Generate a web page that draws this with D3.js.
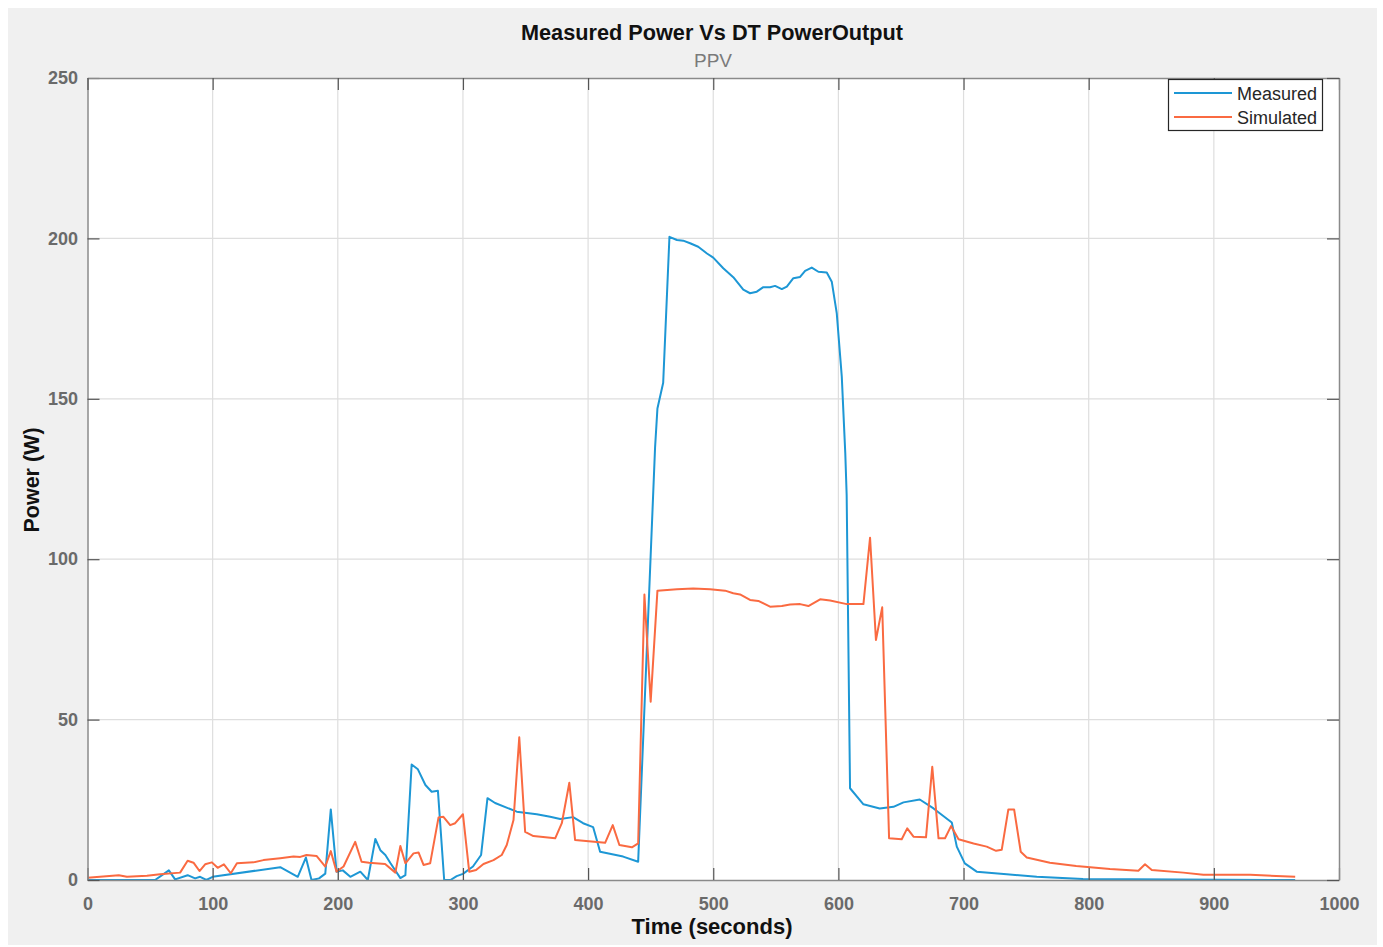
<!DOCTYPE html>
<html>
<head>
<meta charset="utf-8">
<script src="https://cdn.jsdelivr.net/npm/d3@7"></script>
<style>
  html, body { margin: 0; padding: 0; background: #ffffff; }
  svg { display: block; }
  text { font-family: "Liberation Sans", Arial, Helvetica, sans-serif; }
</style>
</head>
<body>
<svg id="chart" width="1383" height="947"></svg>
<script>
// ---------------- DATA ----------------
const seriesNames = ["Measured", "Simulated"];
const seriesColors = ["#1d97d5", "#fa6a41"];

const xTicks = [0, 100, 200, 300, 400, 500, 600, 700, 800, 900, 1000];
const yTicks = [0, 50, 100, 150, 200, 250];

const measuredTime = [0,54,65,70,80,86,90,95,100,154,168,174.5,179,185,190,194.4,199,204,210,218,224,230,234,238,242,250,254,259,264,270,275,280,285,290,295,300,308,314.5,319.6,325.7,343,359,369.7,377.7,388,396,404,409.6,428,440,453.5,455.4,460,465,471,476,481.5,488,495,500,508,516,524,529.4,534.8,540,545.4,549.4,554.8,558.8,564,569.4,573.4,578.7,584,590.7,594.7,598.7,602.7,605.5,606.6,609.3,620,633,644,652,665,676,690.6,694.6,701,710.5,734.5,758.5,795.5,965];
const measuredPower = [0,0,3,0.2,1.5,0.5,1,0,1,4,1,7,0,0.5,2,22,2.6,3,1,2.6,0,12.8,9.3,7.8,5.3,0.6,1.5,36,34.5,29.6,27.5,27.8,0,0,1.2,1.9,4.2,7.8,25.5,24,21.3,20.5,19.7,19,19.6,17.7,16.5,8.8,7.3,5.7,134.7,147,155,200.5,199.5,199.3,198.5,197.4,195.3,194,190.7,187.9,184,182.9,183.4,184.8,184.8,185.2,184.2,185,187.6,188,189.9,190.9,189.6,189.4,186.5,176.6,156.9,133,120,28.6,23.6,22.3,22.8,24.2,25.1,22.3,17.9,10.4,5.2,2.6,1.8,1.0,0.3,0];

const simulatedTime = [0,25,31.5,47.5,58,74,80,84.7,89.5,94,99.4,104,109,114.5,119.4,132.6,140.6,154,164.6,170,175,183,190,194.4,199,204.6,213.9,219,225,237.8,246,250,254,260.5,264.5,268.5,273.8,280.5,284.4,289.8,293.8,300,305,310.5,316.4,324.4,331,335,340.4,345,349.7,356.3,373.7,379,385,389.6,413.6,419.7,425,435,440,445,450,455.4,471,484,497.5,509.5,516,521.4,529.4,536,545.4,554.8,561.4,569.4,576,585.4,593.4,606.7,620,625.3,630,635,640.5,650.6,655,660,670,675,680,685.2,690,696,708,718.5,726,730.5,735.8,740.4,745.7,750.5,769,790,817,839.7,845,850.4,875.6,891.6,929,965];
const simulatedPower = [0.7,1.5,1.0,1.3,1.8,2.3,6,5.4,2.8,4.9,5.5,3.8,4.9,2.1,5.2,5.5,6.2,6.8,7.3,7.2,7.8,7.5,4.2,9,2.6,4.2,11.9,5.7,5.4,5,2.3,10.6,5.2,8.3,8.6,4.7,5.2,19.5,19.7,17.1,17.7,20.5,2.6,3.1,5,6.2,7.8,10.9,18.7,44.5,15,13.7,13,17.7,30.3,12.5,11.6,17.1,10.9,10.2,11.4,89,55.6,90.2,90.6,90.9,90.6,90.2,89.4,89,87.3,87,85.2,85.4,85.9,86,85.4,87.5,87.1,86,86,106.7,74.8,85,13,12.7,16.1,13.5,13.3,35.3,13,13,16.8,12.7,11.4,10.4,9.1,9.4,22,22,8.8,7,5.4,4.4,3.4,2.9,4.9,3.1,2.3,1.6,1.6,1.0];

const titleText = "Measured Power Vs DT PowerOutput";
const subtitleText = "PPV";
const xLabel = "Time (seconds)";
const yLabel = "Power (W)";

// ---------------- LAYOUT ----------------
const plot = { left: 87.5, right: 1339, top: 78, bottom: 880 };

const svg = d3.select("#chart");

// figure background
svg.append("rect").attr("x", 8).attr("y", 8).attr("width", 1369).attr("height", 937).attr("fill", "#f0f0f0");

const x = d3.scaleLinear().domain([0, 1000]).range([plot.left, plot.right]);
const y = d3.scaleLinear().domain([0, 250]).range([plot.bottom, plot.top]);

// plot area
svg.append("rect")
  .attr("x", plot.left).attr("y", plot.top)
  .attr("width", plot.right - plot.left).attr("height", plot.bottom - plot.top)
  .attr("fill", "#ffffff");

// grid
const grid = svg.append("g").attr("class", "grid");
grid.selectAll("line.vx").data(xTicks.slice(1, -1)).enter().append("line")
  .attr("x1", d => x(d)).attr("x2", d => x(d))
  .attr("y1", plot.top).attr("y2", plot.bottom)
  .attr("stroke", "#dedede").attr("stroke-width", 1.2);
grid.selectAll("line.hy").data(yTicks.slice(1, -1)).enter().append("line")
  .attr("y1", d => y(d)).attr("y2", d => y(d))
  .attr("x1", plot.left).attr("x2", plot.right)
  .attr("stroke", "#dedede").attr("stroke-width", 1.2);

// clip
svg.append("clipPath").attr("id", "clip").append("rect")
  .attr("x", plot.left).attr("y", plot.top - 2)
  .attr("width", plot.right - plot.left).attr("height", plot.bottom - plot.top + 2);

// series
const seriesData = [
  d3.zip(measuredTime, measuredPower),
  d3.zip(simulatedTime, simulatedPower)
];
const line = d3.line().x(d => x(d[0])).y(d => y(d[1]));
const lines = svg.append("g").attr("clip-path", "url(#clip)");
seriesData.forEach((data, i) => {
  lines.append("path")
    .datum(data)
    .attr("d", line)
    .attr("fill", "none")
    .attr("stroke", seriesColors[i])
    .attr("stroke-width", 2)
    .attr("stroke-linejoin", "round");
});

// axes (MATLAB style, ticks inward, box)
const axisColor = "#8a8a8a";
const tickLen = 12;
const fmt = d3.format("d");
const bottomAxis = d3.axisBottom(x).tickValues(xTicks).tickFormat(fmt).tickSizeInner(-tickLen).tickSizeOuter(0).tickPadding(17);
const leftAxis = d3.axisLeft(y).tickValues(yTicks).tickFormat(fmt).tickSizeInner(-tickLen).tickSizeOuter(0).tickPadding(9.5);
const topAxis = d3.axisTop(x).tickValues(xTicks).tickSizeInner(-tickLen).tickSizeOuter(0).tickFormat("");
const rightAxis = d3.axisRight(y).tickValues(yTicks).tickSizeInner(-tickLen).tickSizeOuter(0).tickFormat("");

function styleAxis(g) {
  g.select(".domain").attr("stroke", axisColor).attr("stroke-width", 1.5);
  g.selectAll(".tick line").attr("stroke", "#555").attr("stroke-width", 1.2);
  g.selectAll(".tick text")
    .attr("fill", "#6a6a6a")
    .style("font-size", "18px")
    .style("font-weight", "bold")
    .style("font-family", "'Liberation Sans', Arial, sans-serif");
}

svg.append("g").attr("transform", `translate(0,${plot.bottom})`).call(bottomAxis).call(styleAxis);
svg.append("g").attr("transform", `translate(${plot.left},0)`).call(leftAxis).call(styleAxis);
svg.append("g").attr("transform", `translate(0,${plot.top})`).call(topAxis).call(styleAxis);
svg.append("g").attr("transform", `translate(${plot.right},0)`).call(rightAxis).call(styleAxis);

// titles
svg.append("text")
  .attr("x", 712).attr("y", 40)
  .attr("text-anchor", "middle")
  .style("font-size", "21.7px").style("font-weight", "bold").attr("fill", "#111")
  .text(titleText);
svg.append("text")
  .attr("x", 713).attr("y", 67)
  .attr("text-anchor", "middle")
  .style("font-size", "19px").attr("fill", "#7a7a7a")
  .text(subtitleText);
svg.append("text")
  .attr("x", 712).attr("y", 934)
  .attr("text-anchor", "middle")
  .style("font-size", "22px").style("font-weight", "bold").attr("fill", "#111")
  .text(xLabel);
svg.append("text")
  .attr("transform", `translate(39,480) rotate(-90)`)
  .attr("text-anchor", "middle")
  .style("font-size", "21.5px").style("font-weight", "bold").attr("fill", "#111")
  .text(yLabel);

// legend
const lg = svg.append("g");
lg.append("rect")
  .attr("x", 1168.5).attr("y", 79.5).attr("width", 154).attr("height", 51)
  .attr("fill", "#ffffff").attr("stroke", "#262626").attr("stroke-width", 1.2);
seriesNames.forEach((name, i) => {
  const yy = 93 + i * 24;
  lg.append("line")
    .attr("x1", 1174).attr("x2", 1232).attr("y1", yy).attr("y2", yy)
    .attr("stroke", seriesColors[i]).attr("stroke-width", 2);
  lg.append("text")
    .attr("x", 1237).attr("y", yy + 6.5)
    .style("font-size", "18px").attr("fill", "#262626")
    .text(name);
});
</script>
</body>
</html>
